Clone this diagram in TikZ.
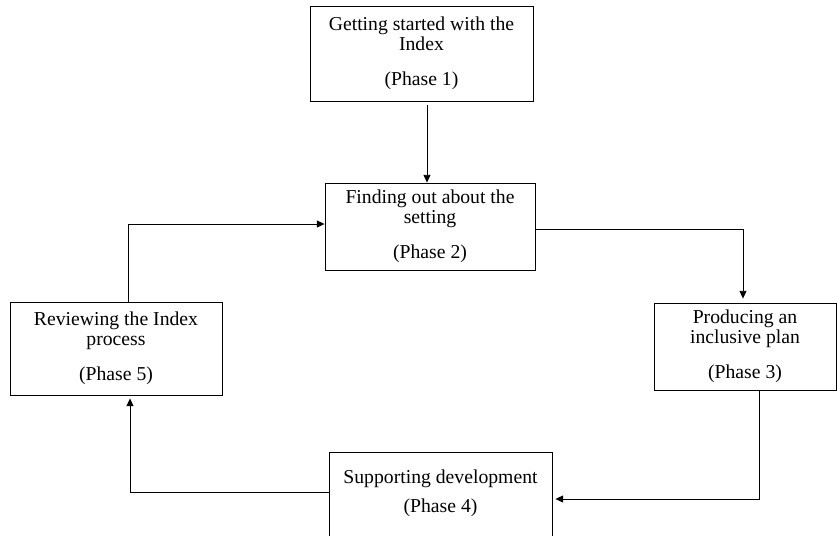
\documentclass[tikz,border=0pt]{standalone}
\usepackage{fontspec}
\setmainfont{Liberation Serif}
\usetikzlibrary{arrows.meta}

\begin{document}
\begin{tikzpicture}[x=0.025cm,y=-0.025cm,
  phase/.style={draw,line width=0.6pt,align=center,inner sep=0pt,
    font=\fontsize{14}{14.2}\selectfont},
  arr/.style={line width=0.6pt,-{Triangle[length=5.5pt,width=5pt]}}]
\useasboundingbox (0,0) rectangle (837,535);

% the five phases
\node[phase,minimum width=5.575cm,minimum height=2.375cm] (n1) at (421.5,53.5)
  {Getting started with the\\Index\\[11pt](Phase 1)};
\node[phase,minimum width=5.25cm,minimum height=2.175cm] (n2) at (430,226.5)
  {Finding out about the\\setting\\[11pt](Phase 2)};
\node[phase,minimum width=4.55cm,minimum height=2.175cm] (n3) at (745,346.5)
  {Producing an\\inclusive plan\\[11pt](Phase 3)};
\node[phase,minimum width=5.575cm,minimum height=2.7cm] (n4) at (440.5,506)
  {Supporting development\\[7pt](Phase 4)\\[7pt]\mbox{}};
\node[phase,minimum width=5.3cm,minimum height=2.325cm] (n5) at (116,348.5)
  {Reviewing the Index\\process\\[11pt](Phase 5)};

% the cycle
\coordinate (a1) at ([shift={(5.5,4)}]n1.south);
\draw[arr] (a1) -- (a1 |- n2.north);
\draw[arr,shorten >=0.1cm] ([shift={(0,2.5)}]n2.east) -| ([shift={(-2,0)}]n3.north);
\draw[arr] ([shift={(14,0)}]n3.south) |- ([shift={(3,-7)}]n4.east);
\draw[arr] ([shift={(0,-14)}]n4.west) -| ([shift={(14,3)}]n5.south);
\draw[arr] ([shift={(12,0)}]n5.north) |- ([shift={(0,-2.5)}]n2.west);
\end{tikzpicture}
\end{document}
